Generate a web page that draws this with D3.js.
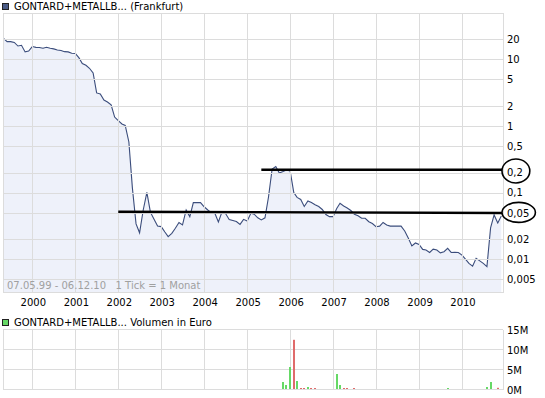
<!DOCTYPE html>
<html>
<head>
<meta charset="utf-8">
<script src="https://cdn.jsdelivr.net/npm/d3@7/dist/d3.min.js"></script>
<style>
  body { margin: 0; background: #fff; }
  text { font-family: "DejaVu Sans", Verdana, sans-serif; font-size: 10px; }
</style>
</head>
<body>
<div class="chart"></div>
<script>
// monthly closing prices, first value = May 1999, last = Dec 2010
var PRICE_START = "1999-05";
var PRICES = [
  20.6, 18.4, 18.4, 17.9, 15.8, 16.2, 12.9, 13.3,
  15.5, 15.1, 15.0, 14.6, 15.1, 14.6, 14.3, 13.8, 13.5, 13.0, 12.9, 12.3,
  12.2, 10.5, 8.65, 8.13, 7.33, 6.24, 3.13, 3.02, 2.45, 2.29, 2.07, 1.36,
  1.2, 1.07, 1.02, 0.575, 0.117, 0.034, 0.025, 0.055, 0.101, 0.051, 0.040, 0.0316,
  0.031, 0.0257, 0.0219, 0.0246, 0.0293, 0.0357, 0.0329, 0.055, 0.0437, 0.0708, 0.0708, 0.071,
  0.0615, 0.055, 0.050, 0.049, 0.0363, 0.0515, 0.0486, 0.0397, 0.0383, 0.037, 0.0334, 0.0398,
  0.0376, 0.049, 0.0475, 0.042, 0.039, 0.042, 0.086, 0.226, 0.247, 0.197, 0.207, 0.218,
  0.211, 0.100, 0.085, 0.079, 0.062, 0.075, 0.071, 0.066, 0.062, 0.056, 0.0471, 0.0437,
  0.0437, 0.058, 0.0694, 0.063, 0.059, 0.054, 0.0475, 0.0451, 0.0413, 0.0413, 0.0367, 0.0345,
  0.0309, 0.0315, 0.0357, 0.0328, 0.0315, 0.0315, 0.0315, 0.0315, 0.0266, 0.0209, 0.0159, 0.0176,
  0.0167, 0.0141, 0.0138, 0.0127, 0.0142, 0.0138, 0.0125, 0.0130, 0.0146, 0.0127, 0.0128, 0.0127,
  0.0116, 0.0100, 0.0087, 0.0079, 0.0104, 0.0095, 0.0087, 0.0078, 0.0296, 0.0463, 0.0352, 0.0448
];

var YEARS = [2000, 2001, 2002, 2003, 2004, 2005, 2006, 2007, 2008, 2009, 2010];
var PRICE_TICKS = [20, 10, 5, 2, 1, 0.5, 0.2, 0.1, 0.05, 0.02, 0.01, 0.005];

// volume in million euro
var VOL_MONTHS = ["2005-11", "2005-12", "2006-01", "2006-02", "2006-03", "2006-04", "2006-05",
  "2006-06", "2006-07", "2006-08", "2007-02", "2007-03", "2007-04", "2007-05", "2007-07",
  "2009-09", "2010-08", "2010-09", "2010-11"];
var VOL_VALUES = [1.75, 1.0, 5.5, 12.3, 2.0, 0.25, 0.25, 0.5, 0.25, 0.25, 3.75, 1.0, 0.25, 0.25, 0.25,
  0.25, 0.5, 1.75, 0.3];
var VOL_UP = [1, 1, 1, 0, 1, 0, 0, 1, 0, 0, 1, 1, 0, 0, 0, 1, 1, 1, 0];
var VOL_TICKS = [0, 5, 10, 15];

// hand drawn support / resistance lines
var LEVEL_FROM = ["2005-05", "2002-01"];
var LEVEL_START = [0.221, 0.0518];
var LEVEL_END = [0.221, 0.0496];
var LEVEL_LABEL = ["0,2", "0,05"];

var DEFAULTS = {
  width: 545,
  height: 398,
  plot_left: 3,
  plot_right: 503,
  price_top: 13,
  price_bottom: 292,
  vol_top: 330,
  vol_bottom: 390,
  grid: "#dcdcdc",
  line: "#3b4d7c",
  area: "#eef1fa"
};

var parseMonth = d3.timeParse("%Y-%m");
var fmtDe = function (v) { return String(v).replace(".", ","); };

var svg = d3.select(".chart").append("svg")
  .attr("width", DEFAULTS.width)
  .attr("height", DEFAULTS.height);

var x = d3.scaleTime()
  .domain([new Date(2000, 0, 1), new Date(2010, 0, 1)])
  .range([32.3, 462]);

var y = d3.scaleLog()
  .domain([0.00324, 49.4])
  .range([DEFAULTS.price_bottom, DEFAULTS.price_top]);

var yVol = d3.scaleLinear()
  .domain([0, 15])
  .range([DEFAULTS.vol_bottom, DEFAULTS.vol_top]);

var start = parseMonth(PRICE_START);
var data = PRICES.map(function (v, i) {
  return { date: d3.timeMonth.offset(start, i), value: v };
});

function crisp(v) { return Math.round(v) + 0.5; }

svg.append("defs").append("clipPath").attr("id", "clip")
  .append("rect")
  .attr("x", DEFAULTS.plot_left)
  .attr("y", DEFAULTS.price_top)
  .attr("width", DEFAULTS.plot_right - DEFAULTS.plot_left)
  .attr("height", DEFAULTS.price_bottom - DEFAULTS.price_top);

// price area
var plot = svg.append("g").attr("clip-path", "url(#clip)");

plot.append("path")
  .datum(data)
  .attr("fill", DEFAULTS.area)
  .attr("d", d3.area()
    .x(function (d) { return x(d.date); })
    .y0(DEFAULTS.price_bottom)
    .y1(function (d) { return y(d.value); }));

// grid (price)
var grid = svg.append("g").attr("stroke", DEFAULTS.grid).attr("stroke-width", 1);

grid.selectAll(".hy")
  .data(PRICE_TICKS)
  .enter().append("line")
  .attr("x1", DEFAULTS.plot_left).attr("x2", DEFAULTS.plot_right)
  .attr("y1", function (d) { return crisp(y(d)); })
  .attr("y2", function (d) { return crisp(y(d)); });

grid.selectAll(".vx")
  .data(YEARS)
  .enter().append("line")
  .attr("y1", DEFAULTS.price_top).attr("y2", DEFAULTS.price_bottom)
  .attr("x1", function (d) { return crisp(x(new Date(d, 0, 1))); })
  .attr("x2", function (d) { return crisp(x(new Date(d, 0, 1))); });

grid.append("rect")
  .attr("x", DEFAULTS.plot_left + 0.5).attr("y", DEFAULTS.price_top + 0.5)
  .attr("width", DEFAULTS.plot_right - DEFAULTS.plot_left)
  .attr("height", DEFAULTS.price_bottom - DEFAULTS.price_top)
  .attr("fill", "none");

// price line
plot.append("path")
  .datum(data)
  .attr("fill", "none")
  .attr("stroke", DEFAULTS.line)
  .attr("stroke-width", 1.1)
  .attr("d", d3.line()
    .x(function (d) { return x(d.date); })
    .y(function (d) { return y(d.value); }));

// right axis
svg.append("g")
  .selectAll("text")
  .data(PRICE_TICKS)
  .enter().append("text")
  .attr("x", 507)
  .attr("y", function (d) { return y(d); })
  .attr("dy", "0.38em")
  .attr("fill", "#000")
  .text(fmtDe);

// year labels
svg.append("g")
  .selectAll("text")
  .data(YEARS)
  .enter().append("text")
  .attr("x", function (d) { return x(new Date(d, 0, 1)) + 1; })
  .attr("y", 305.7)
  .style("text-anchor", "middle")
  .text(function (d) { return d; });

svg.append("text")
  .attr("x", 7).attr("y", 289.3)
  .attr("fill", "#a0a0a0")
  .attr("xml:space", "preserve")
  .text("07.05.99 - 06.12.10   1 Tick = 1 Monat");

// legends
svg.append("rect")
  .attr("x", 2.5).attr("y", 3.5).attr("width", 6).attr("height", 6)
  .attr("fill", "#4a5b86").attr("stroke", "#222");
svg.append("text").attr("x", 14).attr("y", 10.3)
  .text("GONTARD+METALLB... (Frankfurt)");

svg.append("rect")
  .attr("x", 2.5).attr("y", 319.5).attr("width", 6).attr("height", 6)
  .attr("fill", "#66d966").attr("stroke", "#222");
svg.append("text").attr("x", 14).attr("y", 326)
  .text("GONTARD+METALLB... Volumen in Euro");

// support / resistance annotations
var ann = svg.append("g");
LEVEL_LABEL.forEach(function (label, i) {
  var cy = y(LEVEL_START[i]) + (i === 0 ? 1.3 : 0.7);
  var tw = label.length * 5.6;
  var cx = 507 + tw / 2 + 0.5;
  var rx = tw / 2 + 5.5;
  var ry = i === 0 ? 12 : 10;
  ann.append("line")
    .attr("x1", x(parseMonth(LEVEL_FROM[i])))
    .attr("y1", y(LEVEL_START[i]))
    .attr("x2", cx - rx)
    .attr("y2", y(LEVEL_END[i]))
    .attr("stroke", "#000")
    .attr("stroke-width", 2.4);
  ann.append("ellipse")
    .attr("cx", cx).attr("cy", cy)
    .attr("rx", rx).attr("ry", ry)
    .attr("fill", "none")
    .attr("stroke", "#000")
    .attr("stroke-width", 1.6);
});

// volume grid
var vgrid = svg.append("g").attr("stroke", DEFAULTS.grid).attr("stroke-width", 1);

vgrid.selectAll(".hy")
  .data(VOL_TICKS)
  .enter().append("line")
  .attr("x1", DEFAULTS.plot_left).attr("x2", DEFAULTS.plot_right)
  .attr("y1", function (d) { return crisp(yVol(d)) - 1; })
  .attr("y2", function (d) { return crisp(yVol(d)) - 1; });

vgrid.selectAll(".vx")
  .data(YEARS)
  .enter().append("line")
  .attr("y1", DEFAULTS.vol_top).attr("y2", DEFAULTS.vol_bottom)
  .attr("x1", function (d) { return crisp(x(new Date(d, 0, 1))); })
  .attr("x2", function (d) { return crisp(x(new Date(d, 0, 1))); });

vgrid.append("line")
  .attr("x1", DEFAULTS.plot_left + 0.5).attr("x2", DEFAULTS.plot_left + 0.5)
  .attr("y1", DEFAULTS.vol_top).attr("y2", DEFAULTS.vol_bottom);
vgrid.append("line")
  .attr("x1", DEFAULTS.plot_right + 0.5).attr("x2", DEFAULTS.plot_right + 0.5)
  .attr("y1", DEFAULTS.vol_top).attr("y2", DEFAULTS.vol_bottom);

// volume bars
svg.append("g")
  .selectAll("rect")
  .data(VOL_MONTHS)
  .enter().append("rect")
  .attr("x", function (d) { return Math.round(x(parseMonth(d))) - 1; })
  .attr("width", 2)
  .attr("y", function (d, i) { return yVol(VOL_VALUES[i]) - 1; })
  .attr("height", function (d, i) { return yVol(0) - yVol(VOL_VALUES[i]); })
  .attr("fill", function (d, i) { return VOL_UP[i] ? "#66d966" : "#e06b6b"; });

svg.append("g")
  .selectAll("text")
  .data(VOL_TICKS)
  .enter().append("text")
  .attr("x", 507)
  .attr("y", function (d) { return yVol(d); })
  .attr("dy", "0.38em")
  .text(function (d) { return d + "M"; });
</script>
</body>
</html>
